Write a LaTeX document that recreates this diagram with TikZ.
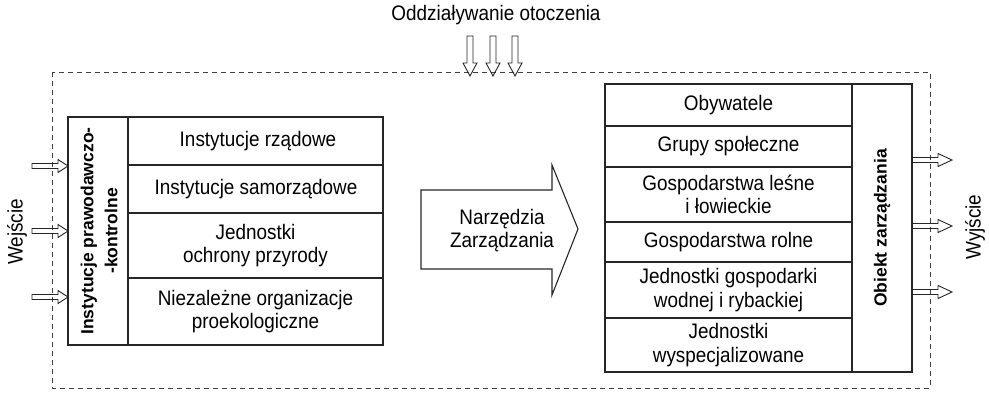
\documentclass[tikz,border=0pt]{standalone}
\usepackage{fontspec}
\setmainfont{Liberation Sans}
\newfontfamily\tallfont[FakeStretch=0.9]{Liberation Sans}
\begin{document}
\begin{tikzpicture}[x=1pt,y=-1pt,
  txt/.style={font=\tallfont\fontsize{21}{23.5}\selectfont, align=center, inner sep=0pt},
  vtxt/.style={font=\fontsize{17.5}{24}\selectfont\bfseries, align=center, inner sep=0pt, rotate=90},
  boxline/.style={draw=black!85, line width=1.2pt},
  dashbox/.style={draw=black!75, line width=0.9pt, dash pattern=on 5pt off 4pt},
  hol/.style={draw=black!85, line width=0.9pt, fill=none, line join=miter}]
\useasboundingbox (0,0) rectangle (989,394);

% environment
\draw[dashbox] (52,72) rectangle (930,388);
\node[txt] (env) at (496,15) {Oddziaływanie otoczenia};
\foreach \x in {470,493,515}
  \draw[hol] (\x-3,36) -- (\x-3,63) -- (\x-7,63) -- (\x,76) -- (\x+7,63) -- (\x+3,63) -- (\x+3,36) -- cycle;

% input side
\node[txt, rotate=90] (in) at (17,232) {Wejście};
\foreach \y in {166,231,297}
  \draw[hol] (32,\y-2.5) -- (58,\y-2.5) -- (58,\y-6.5) -- (68,\y) -- (58,\y+6.5) -- (58,\y+2.5) -- (32,\y+2.5) -- cycle;

% left box
\draw[boxline] (68,117) rectangle (383,345);
\draw[boxline] (128,117) -- (128,345);
\foreach \y in {165,213,278} \draw[boxline] (128,\y) -- (383,\y);
\node[vtxt] (ipk) at (99,231) {Instytucje prawodawczo-\\-kontrolne};
\node[txt] (l1) at (258,141) {Instytucje rządowe};
\node[txt] (l2) at (256,189) {Instytucje samorządowe};
\node[txt] (l3) at (255.5,245.5) {Jednostki\\ochrony przyrody};
\node[txt] (l4) at (255.5,311.5) {Niezależne organizacje\\proekologiczne};

% big arrow
\draw[hol, line width=1.1pt] (421,190) -- (552,190) -- (552,165) -- (578,229) -- (552,295) -- (552,269) -- (421,269) -- cycle;
\node[txt] (nz) at (502,230.5) {Narzędzia\\Zarządzania};

% right box
\draw[boxline] (605,84) rectangle (912,372);
\draw[boxline] (852,84) -- (852,372);
\foreach \y in {126,167,222,262,318} \draw[boxline] (605,\y) -- (852,\y);
\node[txt] (r1) at (728.5,105) {Obywatele};
\node[txt] (r2) at (728.5,146.5) {Grupy społeczne};
\node[txt] (r3) at (728.5,194.5) {Gospodarstwa leśne\\i łowieckie};
\node[txt] (r4) at (728.5,242) {Gospodarstwa rolne};
\node[txt] (r5) at (728.5,290) {Jednostki gospodarki\\wodnej i rybackiej};
\node[txt] (r6) at (728.5,345) {Jednostki\\wyspecjalizowane};
\node[vtxt] (oz) at (882,228) {Obiekt zarządzania};

% output side
\foreach \y in {160,226,292}
  \draw[hol] (912,\y-2.5) -- (938,\y-2.5) -- (938,\y-6.5) -- (952,\y) -- (938,\y+6.5) -- (938,\y+2.5) -- (912,\y+2.5) -- cycle;
\node[txt, rotate=90] (out) at (975,227) {Wyjście};
\end{tikzpicture}
\end{document}
